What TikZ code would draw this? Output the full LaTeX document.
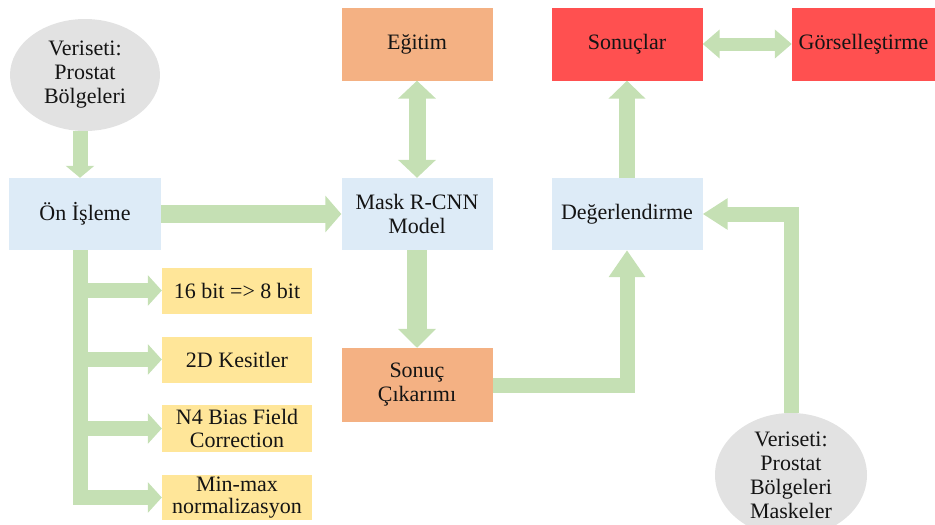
\documentclass[tikz,border=0pt]{standalone}
\usepackage{fontspec}
\setmainfont{Liberation Serif}
\newfontfamily\diagfont{Liberation Serif}
\usetikzlibrary{arrows.meta,shapes.geometric}
\definecolor{gr}{HTML}{C5E0B4}
\definecolor{bl}{HTML}{DDEBF7}
\definecolor{org}{HTML}{F4B183}
\definecolor{yel}{HTML}{FFE699}
\definecolor{rd}{HTML}{FF5050}
\definecolor{gy}{HTML}{E2E2E2}
\definecolor{txt}{HTML}{141414}
\begin{document}
\begin{tikzpicture}[x=1pt,y=-1pt,
  box/.style={rectangle, inner sep=1pt, align=center, text=txt, font=\diagfont\fontsize{22}{24}\selectfont},
  bigbox/.style={box, minimum width=151pt, minimum height=73pt},
  ybox/.style={box, fill=yel, minimum width=150pt, minimum height=46pt, font=\diagfont\fontsize{22}{22.5}\selectfont},
  ell/.style={ellipse, fill=gy, inner sep=0pt, align=center, text=txt, font=\diagfont\fontsize{22}{24}\selectfont},
  garrow/.style n args={3}{draw=gr, line width=#1, -{Triangle[width=#2,length=#3]}},
  gdouble/.style n args={3}{draw=gr, line width=#1, {Triangle[width=#2,length=#3]}-{Triangle[width=#2,length=#3]}}
]
\useasboundingbox (0,0) rectangle (935,525);

% nodes
\node[ell, minimum width=150pt, minimum height=112pt] (v1) at (85,75) {Veriseti:\\Prostat\\Bölgeleri};
\node[bigbox, fill=bl, minimum width=152pt, minimum height=72pt] (on) at (85,214) {Ön İşleme};
\node[bigbox, fill=bl, minimum height=72pt] (mask) at (417,214) {Mask R-CNN\\Model};
\node[bigbox, fill=org] (egitim) at (417,44) {Eğitim};
\node[bigbox, fill=org, minimum height=74pt] (sc) at (417,385) {Sonuç\\Çıkarımı};
\node[bigbox, fill=bl, minimum height=72pt] (deg) at (627,214) {Değerlendirme};
\node[bigbox, fill=rd] (son) at (627,44) {Sonuçlar};
\node[bigbox, fill=rd, minimum width=143pt] (gor) at (863.5,44) {Görselleştirme};
\node[ybox] (y1) at (237,290.5) {16 bit => 8 bit};
\node[ybox] (y2) at (237,359.5) {2D Kesitler};
\node[ybox, minimum height=47pt] (y3) at (237,428.5) {N4 Bias Field\\Correction};
\node[ybox, minimum height=45pt] (y4) at (237,497.5) {Min-max\\normalizasyon};
\node[ell, minimum width=152pt, minimum height=124pt] (v2) at (791,475) {Veriseti:\\Prostat\\Bölgeleri\\Maskeler};

% connectors
\draw[garrow={15pt}{28pt}{12pt}] ([xshift=-5pt]v1.south) -- ([xshift=-5pt]on.north);
\draw[garrow={18pt}{36pt}{16pt}] (on.east) -- (mask.west);
\draw[gdouble={17pt}{37pt}{18pt}] (egitim.south) -- (mask.north);
\draw[garrow={20pt}{37pt}{19pt}] (mask.south) -- (sc.north);
\draw[garrow={15pt}{35pt}{27pt}] (sc.east) -| (deg.south);
\draw[garrow={15pt}{30pt}{25pt}] (v2.north) |- (deg.east);
\draw[garrow={16pt}{36pt}{18pt}] (deg.north) -- (son.south);
\draw[gdouble={13pt}{28pt}{17pt}] (son.east) -- (gor.west);

% preprocessing branches
\draw[garrow={15pt}{30pt}{14pt}] ([xshift=-5pt]on.south) |- (y4.west);
\draw[garrow={15pt}{30pt}{14pt}] ([xshift=-5pt]on.south |- y1.west) -- (y1.west);
\draw[garrow={15pt}{30pt}{14pt}] ([xshift=-5pt]on.south |- y2.west) -- (y2.west);
\draw[garrow={15pt}{30pt}{14pt}] ([xshift=-5pt]on.south |- y3.west) -- (y3.west);
\end{tikzpicture}
\end{document}
